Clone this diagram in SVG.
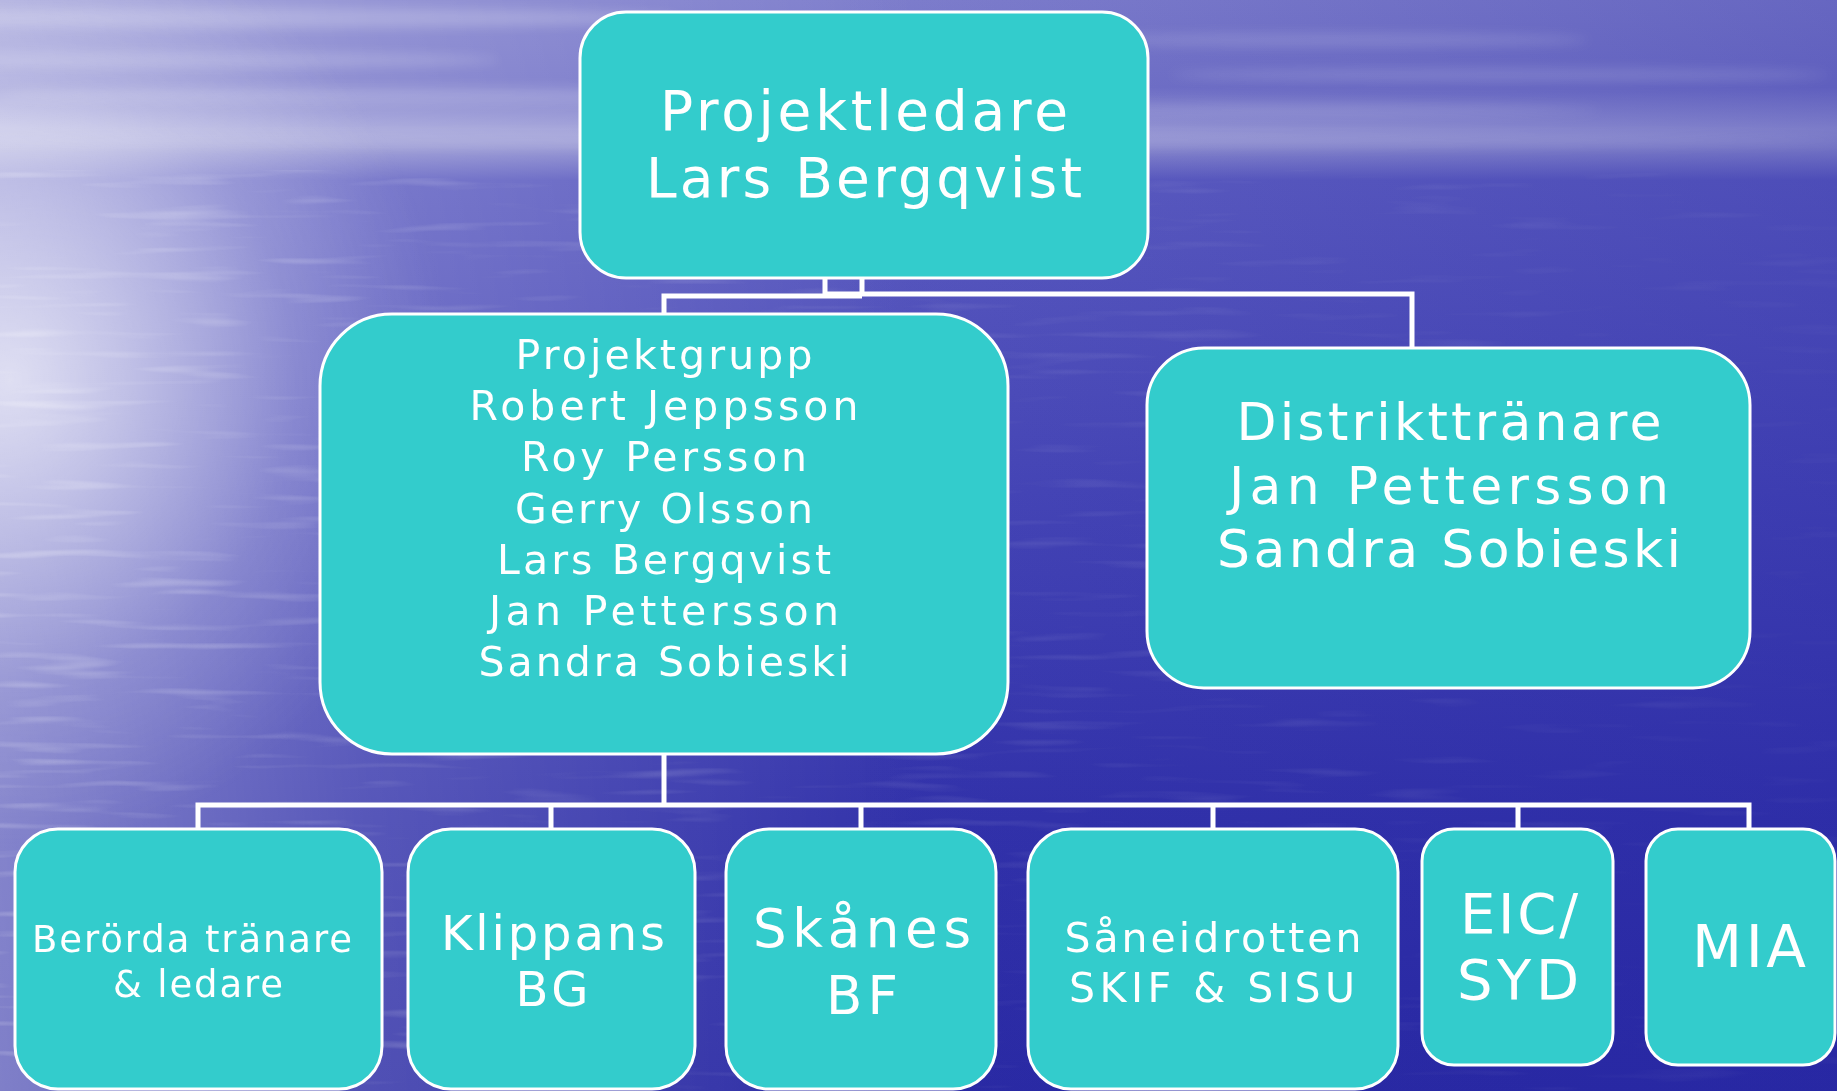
<svg xmlns="http://www.w3.org/2000/svg" width="1837" height="1091" viewBox="0 0 1837 1091">
  <style>
    .box { fill: #33CCCC; stroke: #FFFFFF; stroke-width: 3; }
    .lbl { fill: #FFFFFF; font-family: "DejaVu Sans", Verdana, sans-serif; text-anchor: middle; }
    .wire { fill: none; stroke: #FFFFFF; stroke-width: 5; stroke-linecap: butt; stroke-linejoin: miter; }
  </style>
  <defs>
    <linearGradient id="seaSky" x1="0" y1="0" x2="0" y2="1">
      <stop offset="0" stop-color="#7e7ecc"/>
      <stop offset="0.08" stop-color="#7474c8"/>
      <stop offset="0.118" stop-color="#9a9ad6"/>
      <stop offset="0.135" stop-color="#8e8ed0"/>
      <stop offset="0.165" stop-color="#5c5cc0"/>
      <stop offset="0.45" stop-color="#4646b6"/>
      <stop offset="0.75" stop-color="#3232aa"/>
      <stop offset="1" stop-color="#2a2aa4"/>
    </linearGradient>
    <linearGradient id="leftLight" x1="0" y1="0" x2="1" y2="0">
      <stop offset="0" stop-color="#ffffff" stop-opacity="0.4"/>
      <stop offset="0.2" stop-color="#ffffff" stop-opacity="0.18"/>
      <stop offset="0.5" stop-color="#ffffff" stop-opacity="0"/>
    </linearGradient>
    <linearGradient id="rightDeep" x1="0" y1="0" x2="1" y2="0">
      <stop offset="0.45" stop-color="#2020a0" stop-opacity="0"/>
      <stop offset="1" stop-color="#2020a0" stop-opacity="0.25"/>
    </linearGradient>
    <radialGradient id="glare" cx="0" cy="0" r="1" gradientUnits="userSpaceOnUse" gradientTransform="translate(10 380) scale(440 470)">
      <stop offset="0" stop-color="#ffffff" stop-opacity="0.7"/>
      <stop offset="0.3" stop-color="#ffffff" stop-opacity="0.45"/>
      <stop offset="0.65" stop-color="#ffffff" stop-opacity="0.15"/>
      <stop offset="1" stop-color="#ffffff" stop-opacity="0"/>
    </radialGradient>
    <linearGradient id="rippleFade" x1="0" y1="0" x2="1" y2="0">
      <stop offset="0" stop-color="#ffffff" stop-opacity="1"/>
      <stop offset="0.3" stop-color="#ffffff" stop-opacity="0.5"/>
      <stop offset="1" stop-color="#ffffff" stop-opacity="0.12"/>
    </linearGradient>
    <mask id="rippleMask">
      <rect x="0" y="170" width="1837" height="921" fill="url(#rippleFade)"/>
    </mask>
    <filter id="ripples" x="0" y="0" width="100%" height="100%">
      <feTurbulence type="fractalNoise" baseFrequency="0.008 0.1" numOctaves="2" seed="7" result="n"/>
      <feColorMatrix in="n" type="matrix" values="0 0 0 0 1  0 0 0 0 1  0 0 0 0 1  0 0 3 0 -1.7"/>
    </filter>
    <filter id="soft" x="-20%" y="-200%" width="140%" height="500%">
      <feGaussianBlur stdDeviation="6"/>
    </filter>
  </defs>

  <!-- sea and sky backdrop -->
  <rect x="0" y="0" width="1837" height="1091" fill="url(#seaSky)"/>
  <rect x="0" y="0" width="1837" height="1091" fill="url(#rightDeep)"/>
  <rect x="0" y="0" width="1837" height="1091" fill="url(#leftLight)"/>
  <g filter="url(#soft)" fill="#ffffff">
    <ellipse cx="260" cy="18" rx="420" ry="10" opacity="0.22"/>
    <ellipse cx="200" cy="60" rx="300" ry="8" opacity="0.18"/>
    <ellipse cx="380" cy="95" rx="380" ry="9" opacity="0.16"/>
    <ellipse cx="1330" cy="40" rx="260" ry="7" opacity="0.14"/>
    <ellipse cx="1500" cy="75" rx="330" ry="7" opacity="0.14"/>
    <ellipse cx="1300" cy="110" rx="300" ry="6" opacity="0.12"/>
    <ellipse cx="900" cy="140" rx="950" ry="7" opacity="0.14"/>
  </g>
  <rect x="0" y="0" width="1837" height="1091" fill="url(#glare)"/>
  <rect x="0" y="170" width="1837" height="921" filter="url(#ripples)" mask="url(#rippleMask)" opacity="0.28"/>

  <!-- connectors -->
  <g id="connectors">
    <path class="wire" d="M825 278 V296 M862 278 V296 M664 314 V296 H862 M825 294 H1412 V348"/>
    <path class="wire" d="M664 754 V805 M198 829 V805 H1749 V829 M551 805 V829 M861 805 V829 M1213 805 V829 M1518 805 V829"/>
  </g>

  <g id="node-projektledare">
    <rect class="box" x="580" y="12" width="568" height="266" rx="46"/>
    <text class="lbl" font-size="55" x="864" y="130" textLength="408">Projektledare</text>
    <text class="lbl" font-size="55" x="864" y="197" textLength="436">Lars Bergqvist</text>
  </g>

  <g id="node-projektgrupp">
    <rect class="box" x="320" y="314" width="688" height="440" rx="72"/>
    <text class="lbl" font-size="41" x="664" y="369" textLength="297">Projektgrupp</text>
    <text class="lbl" font-size="41" x="664" y="420" textLength="389">Robert Jeppsson</text>
    <text class="lbl" font-size="41" x="664" y="471" textLength="286">Roy Persson</text>
    <text class="lbl" font-size="41" x="664" y="523" textLength="298">Gerry Olsson</text>
    <text class="lbl" font-size="41" x="664" y="574" textLength="334">Lars Bergqvist</text>
    <text class="lbl" font-size="41" x="664" y="625" textLength="350">Jan Pettersson</text>
    <text class="lbl" font-size="41" x="664" y="676" textLength="371">Sandra Sobieski</text>
  </g>

  <g id="node-distrikttranare">
    <rect class="box" x="1147" y="348" width="603" height="340" rx="57"/>
    <text class="lbl" font-size="52" x="1449" y="440" textLength="425">Distrikttränare</text>
    <text class="lbl" font-size="52" x="1449" y="504" textLength="440">Jan Pettersson</text>
    <text class="lbl" font-size="52" x="1449" y="567" textLength="464">Sandra Sobieski</text>
  </g>

  <g id="node-berorda">
    <rect class="box" x="15" y="829" width="367" height="260" rx="43"/>
    <text class="lbl" font-size="37" x="192" y="952" textLength="320">Berörda tränare</text>
    <text class="lbl" font-size="37" x="198" y="997" textLength="170">&amp; ledare</text>
  </g>

  <g id="node-klippans">
    <rect class="box" x="408" y="829" width="287" height="260" rx="43"/>
    <text class="lbl" font-size="48" x="553" y="950" textLength="224">Klippans</text>
    <text class="lbl" font-size="48" x="552" y="1006" textLength="73">BG</text>
  </g>

  <g id="node-skanes">
    <rect class="box" x="726" y="829" width="270" height="260" rx="43"/>
    <text class="lbl" font-size="53" x="862" y="947" textLength="218">Skånes</text>
    <text class="lbl" font-size="53" x="862" y="1014" textLength="72">BF</text>
  </g>

  <g id="node-saneidrotten">
    <rect class="box" x="1028" y="829" width="370" height="260" rx="43"/>
    <text class="lbl" font-size="41" x="1213" y="952" textLength="297">Såneidrotten</text>
    <text class="lbl" font-size="41" x="1212" y="1002" textLength="286">SKIF &amp; SISU</text>
  </g>

  <g id="node-eic-syd">
    <rect class="box" x="1422" y="829" width="191" height="236" rx="32"/>
    <text class="lbl" font-size="56" x="1519" y="933" textLength="118">EIC/</text>
    <text class="lbl" font-size="56" x="1518" y="999" textLength="122">SYD</text>
  </g>

  <g id="node-mia">
    <rect class="box" x="1646" y="829" width="189" height="236" rx="32"/>
    <text class="lbl" font-size="58" x="1749" y="967" textLength="114">MIA</text>
  </g>
</svg>
